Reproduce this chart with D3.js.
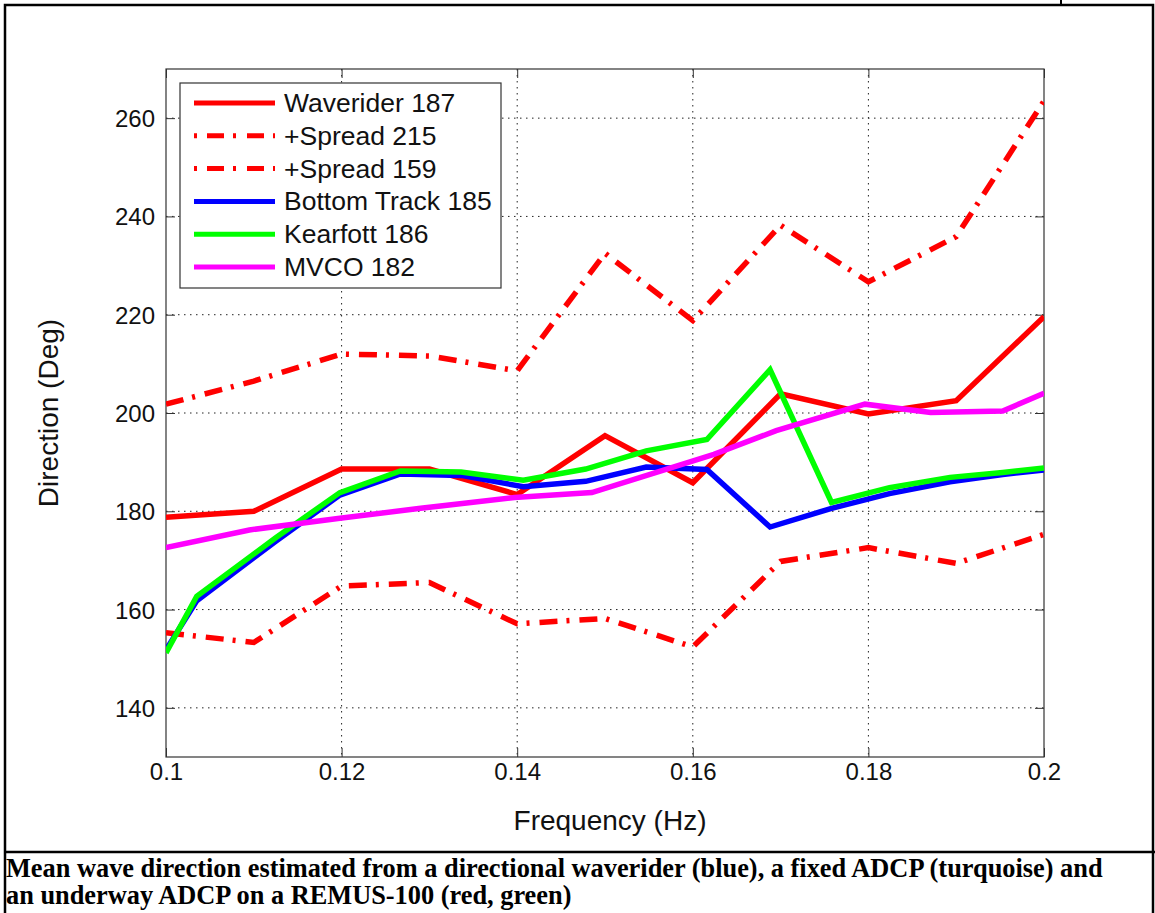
<!DOCTYPE html>
<html><head><meta charset="utf-8">
<script src="https://cdn.jsdelivr.net/npm/d3@7"></script>
<style>body{margin:0;background:#fff}</style>
</head><body>
<svg id="c" width="1155" height="913"></svg>
<script>
// ---- data ----
const xTicks = [0.1, 0.12, 0.14, 0.16, 0.18, 0.2];
const yTicks = [140, 160, 180, 200, 220, 240, 260];
const freqWR = [0.1, 0.11, 0.12, 0.13, 0.14, 0.15, 0.16, 0.17, 0.18, 0.19, 0.2];
const waverider = [178.8, 180.0, 188.6, 188.6, 183.4, 195.4, 185.8, 203.9, 199.8, 202.5, 219.6];
const spreadHigh = [201.8, 206.5, 212.0, 211.6, 208.6, 232.5, 218.8, 238.2, 226.7, 235.9, 263.5];
const spreadLow = [155.3, 153.3, 164.8, 165.5, 157.1, 158.2, 152.4, 169.8, 172.6, 169.4, 175.3];
const freqAUV = [0.1, 0.1035, 0.1125, 0.1198, 0.1267, 0.1336, 0.1407, 0.1478, 0.1547, 0.1616, 0.1688, 0.1758, 0.1824, 0.1893, 0.1953, 0.2];
const bottomTrack = [151.8, 161.8, 173.9, 183.3, 187.6, 187.3, 185.0, 186.1, 189.0, 188.5, 176.8, 180.6, 183.6, 186.0, 187.5, 188.4];
const kearfott = [151.2, 162.7, 174.6, 183.8, 188.2, 188.0, 186.3, 188.6, 192.3, 194.6, 208.8, 181.8, 184.8, 186.9, 187.9, 188.8];
const freqMVCO = [0.1, 0.1095, 0.1198, 0.129, 0.1397, 0.1485, 0.1624, 0.1695, 0.1796, 0.1871, 0.1953, 0.2];
const mvco = [172.6, 176.2, 178.6, 180.6, 182.8, 183.8, 191.6, 196.4, 201.8, 200.1, 200.4, 204.0];
const legendLabels = ["Waverider 187", "+Spread 215", "+Spread 159", "Bottom Track 185", "Kearfott 186", "MVCO 182"];
const captionLines = [
  "Mean wave direction estimated from a directional waverider (blue), a fixed ADCP (turquoise) and",
  "an underway ADCP on a REMUS-100 (red, green)"
];

// ---- layout ----
const svg = d3.select("#c");
const L = 166, R = 1044, T = 69, B = 757;
const x = d3.scaleLinear().domain([0.1, 0.2]).range([L, R]);
const y = d3.scaleLinear().domain([130, 270]).range([B, T]);
const font = "Arial, 'Liberation Sans', Helvetica, sans-serif";

// outer frame
svg.append("rect").attr("x", 5).attr("y", 5).attr("width", 1148).attr("height", 920)
  .attr("fill", "none").attr("stroke", "#000").attr("stroke-width", 2.5);
svg.append("line").attr("x1", 1061).attr("x2", 1061).attr("y1", 0).attr("y2", 5)
  .attr("stroke", "#000").attr("stroke-width", 2);
svg.append("line").attr("x1", 4).attr("x2", 1155).attr("y1", 852).attr("y2", 852)
  .attr("stroke", "#000").attr("stroke-width", 2.5);

// grid
const grid = svg.append("g").attr("stroke", "#222").attr("stroke-width", 1)
  .attr("stroke-dasharray", "1.5,4.5");
grid.selectAll("line.gx").data(xTicks.slice(1, -1)).join("line")
  .attr("x1", d => x(d)).attr("x2", d => x(d)).attr("y1", T).attr("y2", B);
grid.selectAll("line.gy").data(yTicks).join("line")
  .attr("x1", L).attr("x2", R).attr("y1", d => y(d)).attr("y2", d => y(d));

// axes with inward ticks
const tl = 9;
const axB = d3.axisBottom(x).tickValues(xTicks).tickSize(-tl).tickFormat(d => String(d)).tickPadding(14);
const axT = d3.axisTop(x).tickValues(xTicks).tickSize(-tl).tickFormat("");
const axLf = d3.axisLeft(y).tickValues(yTicks).tickSize(-tl).tickFormat(d => String(d)).tickPadding(11);
const axRt = d3.axisRight(y).tickValues(yTicks).tickSize(-tl).tickFormat("");
function styleAx(g) {
  g.select(".domain").remove();
  g.selectAll(".tick line").attr("stroke", "#333");
  g.selectAll(".tick text").attr("font-family", font).attr("font-size", 24).attr("fill", "#111");
}
svg.append("g").attr("transform", `translate(0,${B})`).call(axB).call(styleAx);
svg.append("g").attr("transform", `translate(0,${T})`).call(axT).call(styleAx);
svg.append("g").attr("transform", `translate(${L},0)`).call(axLf).call(styleAx);
svg.append("g").attr("transform", `translate(${R},0)`).call(axRt).call(styleAx);
svg.selectAll(".tick text").filter(function(){return this.textContent;}).attr("dy", null)
  .attr("dominant-baseline", "central");

svg.append("rect").attr("x", L).attr("y", T).attr("width", R - L).attr("height", B - T)
  .attr("fill", "none").attr("stroke", "#333").attr("stroke-width", 1.2);

// clip
svg.append("clipPath").attr("id", "clip").append("rect")
  .attr("x", L).attr("y", T).attr("width", R - L).attr("height", B - T);

const line = d3.line().x(d => x(d[0])).y(d => y(d[1]));
const dashDot = "18,9,3,10";
const series = [
  {xs: freqWR, ys: waverider, color: "#ff0000", dash: null},
  {xs: freqWR, ys: spreadHigh, color: "#ff0000", dash: dashDot},
  {xs: freqWR, ys: spreadLow, color: "#ff0000", dash: dashDot},
  {xs: freqAUV, ys: bottomTrack, color: "#0000ff", dash: null},
  {xs: freqAUV, ys: kearfott, color: "#00ff00", dash: null},
  {xs: freqMVCO, ys: mvco, color: "#ff00ff", dash: null}
];
const gl = svg.append("g").attr("clip-path", "url(#clip)");
series.forEach(s => {
  gl.append("path").datum(s.xs.map((v, i) => [v, s.ys[i]]))
    .attr("d", line).attr("fill", "none").attr("stroke", s.color)
    .attr("stroke-width", 5.5).attr("stroke-linejoin", "miter")
    .attr("stroke-dasharray", s.dash);
});

// axis labels
svg.append("text").attr("x", (L + R) / 2 + 5).attr("y", 820).attr("text-anchor", "middle")
  .attr("dominant-baseline", "central").attr("font-family", font).attr("font-size", 28)
  .attr("fill", "#111").text("Frequency (Hz)");
svg.append("text").attr("transform", `translate(48,${(T + B) / 2}) rotate(-90)`)
  .attr("text-anchor", "middle").attr("dominant-baseline", "central")
  .attr("font-family", font).attr("font-size", 28).attr("fill", "#111").text("Direction (Deg)");

// legend
const lg = svg.append("g");
lg.append("rect").attr("x", 180).attr("y", 83).attr("width", 321).attr("height", 205)
  .attr("fill", "#fff").attr("stroke", "#333").attr("stroke-width", 1.2);
legendLabels.forEach((lab, i) => {
  const yy = 103 + i * 32.8;
  const s = series[i];
  lg.append("line").attr("x1", 194).attr("x2", 275).attr("y1", yy).attr("y2", yy)
    .attr("stroke", s.color).attr("stroke-width", 5).attr("stroke-dasharray", s.dash ? "3,10,17,9,3,11,17,9,3" : null);
  lg.append("text").attr("x", 284).attr("y", yy).attr("dominant-baseline", "central")
    .attr("font-family", font).attr("font-size", 26.5).attr("fill", "#111").text(lab);
});

// caption
const cap = svg.append("g");
captionLines.forEach((t, i) => {
  cap.append("text").attr("x", 6).attr("y", 877 + i * 26.5)
    .attr("font-family", "'Times New Roman', 'Liberation Serif', serif").attr("font-weight", "bold")
    .attr("font-size", 21).attr("fill", "#000").text(t);
});
const first = cap.select("text").node();
const w = first.getComputedTextLength();
const fs = 21 * 1097 / w;
cap.selectAll("text").attr("font-size", fs);
</script>
</body></html>
